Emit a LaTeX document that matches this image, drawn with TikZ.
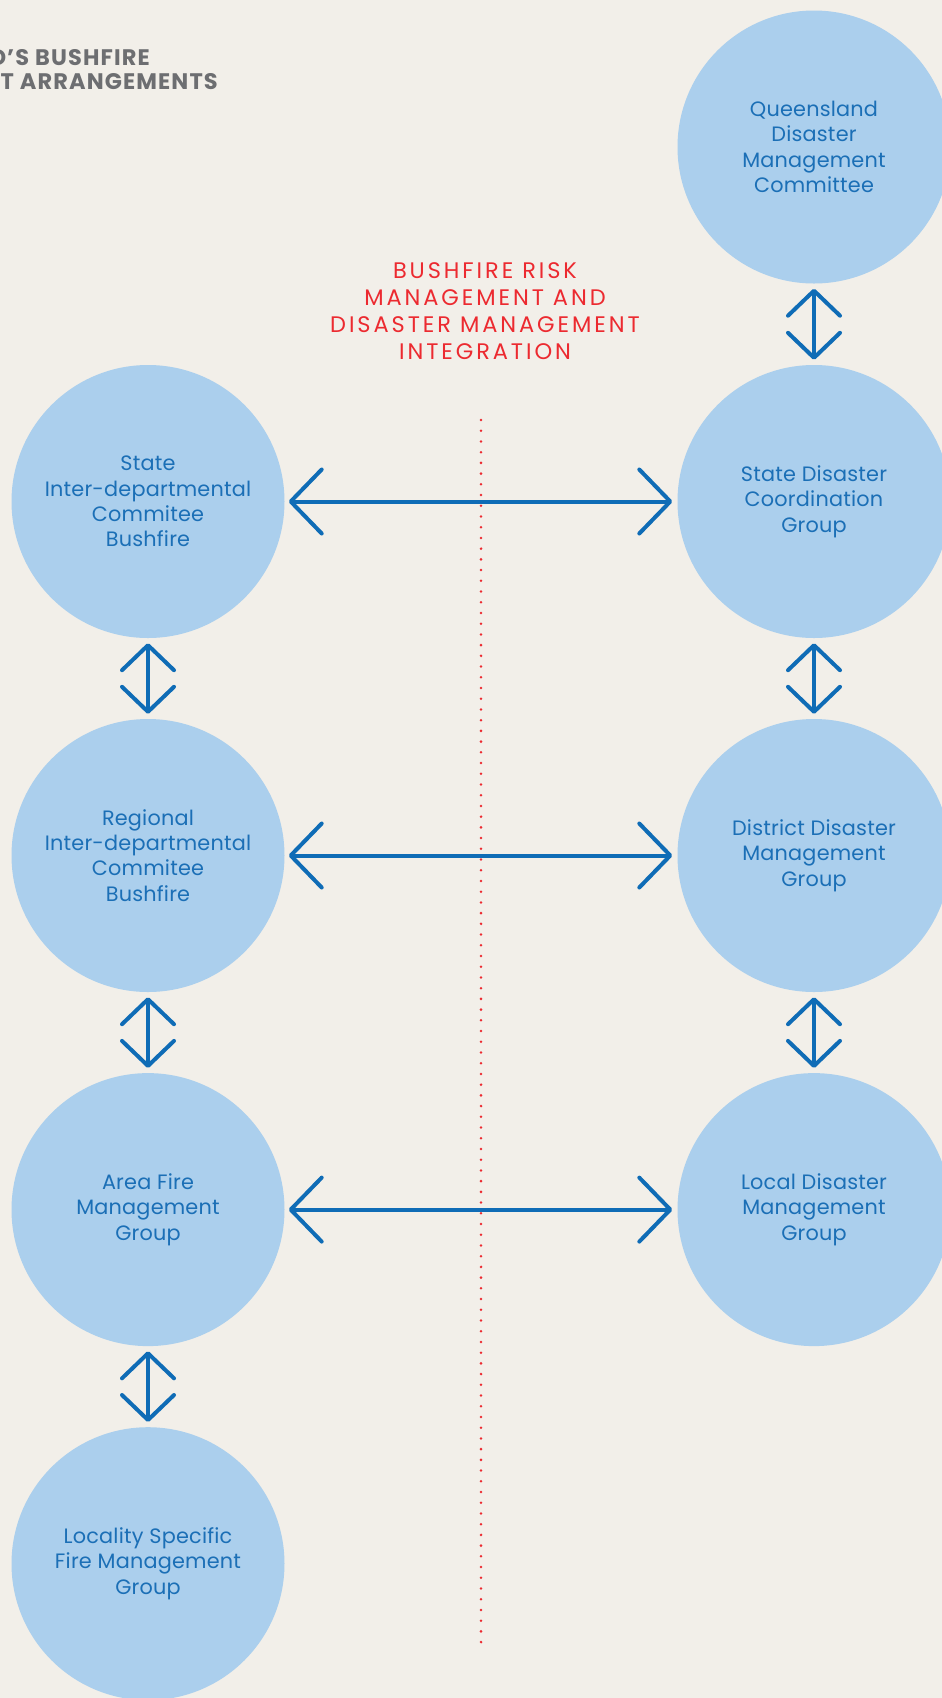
\documentclass[tikz,border=0pt]{standalone}
\usepackage{fontspec}
\setmainfont{Poppins}
\newfontfamily\bluefont[LetterSpace=1]{Poppins}
\newfontfamily\redfont[LetterSpace=13]{Poppins}
\newfontfamily\grayfont[LetterSpace=5]{Poppins Bold}
\usetikzlibrary{arrows.meta}
\definecolor{bgc}{HTML}{F2EFE9}
\definecolor{circc}{HTML}{ABCFED}
\definecolor{txtblue}{HTML}{1B6FB6}
\definecolor{arrblue}{HTML}{0F6CB6}
\definecolor{redt}{HTML}{EC2A30}
\definecolor{grayt}{HTML}{6D6E71}
\begin{document}
\begin{tikzpicture}[x=1pt,y=-1pt,
  org/.style={circle, fill=circc, minimum size=273pt, inner sep=0pt, align=center,
    text=txtblue, font=\bluefont\fontsize{20.8}{25.3}\selectfont},
  harrow/.style={draw=arrblue, line width=4pt, line cap=round,
    {Straight Barb[length=31pt,width=64pt,line width=4pt,round]}-{Straight Barb[length=31pt,width=64pt,line width=4pt,round]},
    shorten <=4pt, shorten >=5pt},
  varrow/.style={draw=arrblue, line width=4pt, line cap=round,
    {Straight Barb[length=25pt,width=52pt,line width=4pt,round]}-{Straight Barb[length=25pt,width=52pt,line width=4pt,round]},
    shorten <=5pt, shorten >=5pt},
  graytxt/.style={anchor=base east, inner sep=0pt, text=grayt, font=\grayfont\fontsize{22.5}{24}\selectfont},
]
\useasboundingbox (0,0) rectangle (942,1698);
\fill[bgc] (0,0) rectangle (942,1698);

% title (cut by page edge, as in the reference)
\node[graytxt] (t1) at (150,65) {D’S BUSHFIRE};
\node[graytxt] (t2) at (218,89) {T ARRANGEMENTS};

% dotted divider
\coordinate (dtop) at (481,420);
\coordinate (dbot) at (481,1646);
\draw[redt, line width=2.8pt, line cap=round, dash pattern=on 0pt off 10.72pt] (dtop) -- (dbot);

% heading
\node[text=redt, align=center, font=\redfont\fontsize{22.5}{27.1}\selectfont] (head) at (485,311)
  {BUSHFIRE RISK\\MANAGEMENT AND\\DISASTER MANAGEMENT\\INTEGRATION};

% left column
\node[org] (sidc) at (148,501.5) {State\\Inter-departmental\\Commitee\\Bushfire};
\node[org] (ridc) at (148,855.5) {Regional\\Inter-departmental\\Commitee\\Bushfire};
\node[org] (afmg) at (148,1209.6) {Area Fire\\Management\\Group};
\node[org] (lsfmg) at (148,1563.7) {Locality Specific\\Fire Management\\Group};

% right column
\node[org] (qdmc) at (814,147) {Queensland\\Disaster\\Management\\Committee};
\node[org] (sdcg) at (814,501.5) {State Disaster\\Coordination\\Group};
\node[org] (ddmg) at (814,855.5) {District Disaster\\Management\\Group};
\node[org] (ldmg) at (814,1209.6) {Local Disaster\\Management\\Group};

% horizontal connectors
\draw[harrow] (sidc.east) -- (sdcg.west);
\draw[harrow] (ridc.east) -- (ddmg.west);
\draw[harrow] (afmg.east) -- (ldmg.west);

% vertical connectors
\draw[varrow] (sidc.south) -- (ridc.north);
\draw[varrow] (ridc.south) -- (afmg.north);
\draw[varrow] (afmg.south) -- (lsfmg.north);
\draw[varrow] (qdmc.south) -- (sdcg.north);
\draw[varrow] (sdcg.south) -- (ddmg.north);
\draw[varrow] (ddmg.south) -- (ldmg.north);
\end{tikzpicture}
\end{document}
